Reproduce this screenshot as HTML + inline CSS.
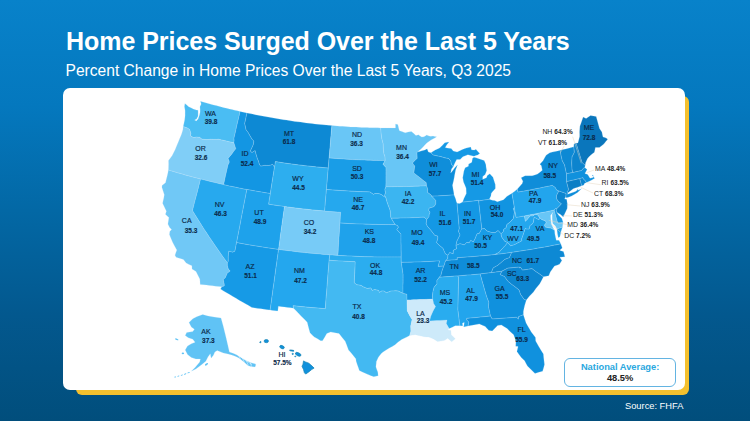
<!DOCTYPE html>
<html><head><meta charset="utf-8"><title>Home Prices Surged Over the Last 5 Years</title>
<style>
html,body{margin:0;padding:0}
body{width:750px;height:421px;overflow:hidden;position:relative;font-family:"Liberation Sans",sans-serif;
background:linear-gradient(180deg,#0882ca 0%,#0478be 25%,#0368a5 50%,#03588e 75%,#014e7c 100%);}
.title{position:absolute;left:66px;top:26px;font-size:25px;font-weight:bold;color:#fff;white-space:nowrap;line-height:30px;letter-spacing:-0.04px}
.sub{position:absolute;left:65.5px;top:60.5px;font-size:15.6px;color:#fff;white-space:nowrap;line-height:20px}
.shadow{position:absolute;left:76px;top:96px;width:613.3px;height:298.8px;border-radius:6px;background:#f4c02e}
.card{position:absolute;left:63px;top:88px;width:621.6px;height:301.8px;border-radius:7px;background:#fff}
.nat{position:absolute;left:564px;top:358.2px;width:110.2px;height:27px;border:1px solid #63b4e2;border-radius:6px;background:#fff;text-align:center}
.nat .l{position:absolute;left:0;right:0;top:3.3px;font-size:9.3px;font-weight:bold;color:#2aa8e0;line-height:11px}
.nat .p{position:absolute;left:0;right:0;top:14.2px;font-size:9.3px;font-weight:bold;color:#222;line-height:11px}
.src{position:absolute;left:625px;top:401px;font-size:9.3px;color:#fff;line-height:11px;white-space:nowrap}
svg{position:absolute;left:0;top:0}
svg path{stroke:#c8e8fa;stroke-opacity:.3;stroke-width:.7;stroke-linejoin:round}
.ld line{stroke:#e3d3ba;stroke-width:.45}
text{font-family:"Liberation Sans",sans-serif;fill:#0b2a4a}
.a{font-size:7px;text-anchor:middle;stroke:#0b2a4a;stroke-width:.18px}
.v{font-size:6.5px;font-weight:bold;text-anchor:middle;stroke:#0b2a4a;stroke-width:.12px}
.s{text-anchor:start}
.e{font-size:6.9px;fill:#222}
.b{font-weight:bold;font-size:6.5px}
</style></head>
<body>
<div class="title">Home Prices Surged Over the Last 5 Years</div>
<div class="sub">Percent Change in Home Prices Over the Last 5 Years, Q3 2025</div>
<div class="shadow"></div>
<div class="card"></div>
<svg width="750" height="421" viewBox="0 0 750 421">
<g>
<path d="M183.2,126.5L184.1,122.6L184.7,119.4L185.1,115.6L185.1,113.1L185.1,110.6L184.4,106.5L184.9,103.5L186.8,105.1L188.7,106.7L191.0,107.8L193.3,109.0L194.9,109.5L196.4,110.1L198.1,110.3L198.1,112.8L198.1,116.1L196.6,119.0L194.6,120.1L196.3,120.9L198.1,118.9L199.4,115.3L200.1,112.2L200.1,108.9L199.9,106.7L201.2,103.9L200.4,101.3L203.0,102.0L205.7,102.8L208.3,103.5L210.9,104.2L213.6,104.9L216.2,105.6L218.9,106.3L221.5,107.0L224.2,107.7L226.8,108.3L229.5,109.0L232.1,109.6L234.8,110.2L237.5,110.8L240.1,111.4L239.3,115.2L238.4,119.0L237.5,122.8L236.6,126.6L235.8,130.5L234.9,134.3L234.0,138.1L234.1,140.7L233.9,142.8L231.4,142.2L228.9,141.7L226.4,141.1L223.9,140.5L221.4,139.9L218.9,139.3L216.3,139.4L213.8,139.4L211.3,139.3L209.2,139.4L207.0,139.6L204.5,139.4L202.0,139.3L199.8,137.4L198.3,137.3L196.7,137.1L193.5,137.6L192.0,136.7L190.4,135.8L190.8,133.2L189.6,129.4L187.3,128.0L185.2,127.3L183.2,126.5Z" fill="#4abdf3"/>
<path d="M168.4,170.1L168.5,167.3L168.6,164.5L168.5,160.6L170.4,158.0L172.2,155.4L173.7,152.5L175.2,149.6L176.8,145.6L178.5,141.6L179.9,138.1L181.4,134.6L182.2,132.0L182.9,129.5L183.2,126.5L185.2,127.3L187.3,128.0L189.6,129.4L190.8,133.2L190.4,135.8L192.0,136.7L193.5,137.6L196.7,137.1L198.3,137.3L199.8,137.4L202.0,139.3L204.5,139.4L207.0,139.6L209.2,139.4L211.3,139.3L213.8,139.4L216.3,139.4L218.9,139.3L221.4,139.9L223.9,140.5L226.4,141.1L228.9,141.7L231.4,142.2L233.9,142.8L234.7,145.2L235.8,148.7L233.6,151.5L231.9,153.9L230.0,156.2L228.1,158.6L229.2,161.0L229.2,162.7L228.0,165.1L227.1,169.0L226.2,172.9L225.3,176.8L224.5,180.7L223.6,184.6L220.7,184.0L217.8,183.3L215.0,182.6L212.1,181.9L209.2,181.2L206.4,180.5L203.5,179.8L200.6,179.1L197.7,178.3L194.7,177.6L191.8,176.8L188.9,176.0L185.9,175.2L183.0,174.3L180.1,173.5L177.2,172.7L174.2,171.8L171.3,170.9L168.4,170.1Z" fill="#80cef7"/>
<path d="M200.2,284.4L200.0,281.7L199.8,279.1L197.9,275.3L196.0,271.5L194.0,270.2L192.0,268.9L191.9,265.8L189.0,264.4L186.2,263.1L183.4,259.6L181.0,258.8L178.5,258.0L176.1,257.2L175.0,255.2L175.9,252.6L176.8,250.1L174.7,246.2L172.6,242.2L171.0,238.4L169.4,234.6L169.8,231.4L171.6,229.6L169.6,227.4L167.9,224.1L168.4,220.8L168.9,217.6L167.2,216.0L165.4,214.3L166.4,211.2L164.5,207.3L162.6,203.3L163.2,200.5L163.8,197.7L164.3,194.8L163.1,191.1L161.9,187.3L162.0,185.6L165.5,182.7L166.4,179.0L167.3,175.4L167.9,172.7L168.4,170.1L171.3,170.9L174.2,171.8L177.2,172.7L180.1,173.5L183.0,174.3L185.9,175.2L188.9,176.0L191.8,176.8L194.7,177.6L197.7,178.3L200.6,179.1L199.6,183.0L198.6,186.9L197.6,190.9L196.6,194.8L195.5,198.7L194.5,202.6L193.5,206.6L192.5,210.5L194.8,214.3L197.2,218.1L199.5,221.8L201.9,225.6L204.3,229.4L206.8,233.1L209.3,236.9L211.8,240.6L214.3,244.3L216.9,248.0L219.5,251.8L222.1,255.5L224.8,259.2L227.4,262.8L227.4,265.6L228.4,269.1L230.2,271.1L227.2,273.3L226.3,275.6L225.3,277.8L223.3,279.6L224.3,284.3L224.3,285.9L221.8,286.8L218.7,286.5L215.6,286.2L212.6,285.8L209.5,285.5L206.4,285.1L203.3,284.7L200.2,284.4Z" fill="#70c8f6"/>
<path d="M200.6,179.1L203.5,179.8L206.4,180.5L209.2,181.2L212.1,181.9L215.0,182.6L217.8,183.3L220.7,184.0L223.6,184.6L226.5,185.2L229.4,185.9L232.3,186.5L235.2,187.1L238.1,187.7L241.0,188.3L243.9,188.9L246.9,189.4L246.1,193.5L245.3,197.6L244.5,201.7L243.7,205.8L242.9,209.9L242.1,213.9L241.3,218.0L240.6,222.1L239.8,226.2L239.0,230.3L238.2,234.4L237.4,238.5L236.6,242.6L236.0,245.4L235.5,248.3L234.9,251.2L232.5,252.2L230.6,251.7L228.8,251.2L228.5,253.8L228.3,256.4L228.3,258.9L228.3,261.3L227.4,262.8L224.8,259.2L222.1,255.5L219.5,251.8L216.9,248.0L214.3,244.3L211.8,240.6L209.3,236.9L206.8,233.1L204.3,229.4L201.9,225.6L199.5,221.8L197.2,218.1L194.8,214.3L192.5,210.5L193.5,206.6L194.5,202.6L195.5,198.7L196.6,194.8L197.6,190.9L198.6,186.9L199.6,183.0L200.6,179.1Z" fill="#27a9ee"/>
<path d="M240.1,111.4L242.4,111.9L244.7,112.4L247.0,112.9L246.2,116.5L245.5,120.0L244.7,123.5L245.4,126.5L246.0,129.6L247.2,131.2L248.4,132.8L250.2,136.1L252.3,139.5L253.9,141.0L253.3,144.7L251.7,148.2L250.3,151.1L252.0,152.4L255.1,150.5L256.0,153.9L257.4,158.5L258.4,160.8L259.7,165.0L260.8,166.0L262.8,165.7L264.7,165.3L266.6,165.4L268.6,165.4L271.6,164.8L272.5,163.9L273.6,165.7L274.5,167.1L273.9,170.9L273.3,174.7L272.7,178.4L272.1,182.2L271.5,186.0L270.9,189.8L270.3,193.5L267.3,193.1L264.4,192.6L261.5,192.1L258.6,191.6L255.6,191.1L252.7,190.5L249.8,190.0L246.9,189.4L243.9,188.9L241.0,188.3L238.1,187.7L235.2,187.1L232.3,186.5L229.4,185.9L226.5,185.2L223.6,184.6L224.5,180.7L225.3,176.8L226.2,172.9L227.1,169.0L228.0,165.1L229.2,162.7L229.2,161.0L228.1,158.6L230.0,156.2L231.9,153.9L233.6,151.5L235.8,148.7L234.7,145.2L233.9,142.8L234.1,140.7L234.0,138.1L234.9,134.3L235.8,130.5L236.6,126.6L237.5,122.8L238.4,119.0L239.3,115.2L240.1,111.4Z" fill="#1396e3"/>
<path d="M247.0,112.9L249.8,113.5L252.6,114.1L255.4,114.7L258.2,115.2L261.0,115.8L263.8,116.3L266.6,116.8L269.5,117.3L272.3,117.8L275.1,118.3L277.9,118.8L280.7,119.2L283.6,119.7L286.4,120.1L289.2,120.6L292.1,121.0L294.9,121.4L297.7,121.8L300.6,122.1L303.4,122.5L306.3,122.9L309.1,123.2L311.9,123.5L314.8,123.9L317.6,124.2L320.5,124.5L323.3,124.7L326.2,125.0L329.0,125.3L331.9,125.5L331.5,129.6L331.2,133.6L330.8,137.7L330.5,141.7L330.2,145.8L329.8,149.8L329.5,153.9L329.1,158.0L328.8,161.3L328.5,164.7L328.3,168.0L325.3,167.8L322.4,167.5L319.4,167.2L316.5,167.0L313.5,166.6L310.6,166.3L307.6,166.0L304.7,165.7L301.8,165.3L298.8,165.0L295.9,164.6L293.0,164.2L290.0,163.8L287.1,163.4L284.2,163.0L281.2,162.5L278.3,162.1L275.4,161.6L275.0,164.4L274.5,167.1L273.6,165.7L272.5,163.9L271.6,164.8L268.6,165.4L266.6,165.4L264.7,165.3L262.8,165.7L260.8,166.0L259.7,165.0L258.4,160.8L257.4,158.5L256.0,153.9L255.1,150.5L252.0,152.4L250.3,151.1L251.7,148.2L253.3,144.7L253.9,141.0L252.3,139.5L250.2,136.1L248.4,132.8L247.2,131.2L246.0,129.6L245.4,126.5L244.7,123.5L245.5,120.0L246.2,116.5L247.0,112.9Z" fill="#0d89d4"/>
<path d="M274.5,167.1L275.0,164.4L275.4,161.6L278.3,162.1L281.2,162.5L284.2,163.0L287.1,163.4L290.0,163.8L293.0,164.2L295.9,164.6L298.8,165.0L301.8,165.3L304.7,165.7L307.6,166.0L310.6,166.3L313.5,166.6L316.5,167.0L319.4,167.2L322.4,167.5L325.3,167.8L328.3,168.0L327.9,172.3L327.5,176.6L327.2,180.9L326.8,185.2L326.4,189.5L326.1,193.8L325.7,198.1L325.3,202.4L325.0,206.7L324.6,211.0L321.5,210.7L318.4,210.5L315.3,210.2L312.2,209.9L309.2,209.6L306.1,209.2L303.0,208.9L299.9,208.5L296.8,208.2L293.7,207.8L290.7,207.4L287.6,207.0L284.5,206.6L281.3,206.1L278.1,205.7L274.9,205.2L271.7,204.7L268.6,204.2L269.1,200.6L269.7,197.1L270.3,193.5L270.9,189.8L271.5,186.0L272.1,182.2L272.7,178.4L273.3,174.7L273.9,170.9L274.5,167.1Z" fill="#2daeef"/>
<path d="M246.9,189.4L249.8,190.0L252.7,190.5L255.6,191.1L258.6,191.6L261.5,192.1L264.4,192.6L267.3,193.1L270.3,193.5L269.7,197.1L269.1,200.6L268.6,204.2L271.7,204.7L274.9,205.2L278.1,205.7L281.3,206.1L284.5,206.6L283.9,210.9L283.3,215.1L282.7,219.4L282.1,223.7L281.5,228.0L280.9,232.3L280.3,236.6L279.8,240.9L279.2,245.2L278.6,249.5L275.3,249.0L272.1,248.5L268.8,248.1L265.6,247.6L262.4,247.1L259.2,246.5L255.9,246.0L252.7,245.5L249.5,244.9L246.3,244.4L243.0,243.8L239.8,243.2L236.6,242.6L237.4,238.5L238.2,234.4L239.0,230.3L239.8,226.2L240.6,222.1L241.3,218.0L242.1,213.9L242.9,209.9L243.7,205.8L244.5,201.7L245.3,197.6L246.1,193.5L246.9,189.4Z" fill="#1ea2eb"/>
<path d="M284.5,206.6L287.6,207.0L290.7,207.4L293.7,207.8L296.8,208.2L299.9,208.5L303.0,208.9L306.1,209.2L309.2,209.6L312.2,209.9L315.3,210.2L318.4,210.5L321.5,210.7L324.6,211.0L327.8,211.3L331.0,211.5L334.2,211.8L337.5,212.0L340.7,212.2L340.4,215.8L340.2,219.4L340.0,223.0L339.7,227.0L339.5,231.1L339.2,235.1L338.9,239.2L338.7,243.3L338.4,247.3L338.2,251.4L337.9,255.4L335.2,255.2L332.5,255.1L329.8,254.9L326.6,254.6L323.4,254.4L320.2,254.1L317.0,253.8L313.8,253.5L310.6,253.2L307.4,252.9L304.2,252.6L300.9,252.2L297.7,251.9L294.5,251.5L291.3,251.1L288.1,250.7L284.9,250.3L281.8,249.9L278.6,249.5L279.2,245.2L279.8,240.9L280.3,236.6L280.9,232.3L281.5,228.0L282.1,223.7L282.7,219.4L283.3,215.1L283.9,210.9L284.5,206.6Z" fill="#77cbf7"/>
<path d="M236.6,242.6L239.8,243.2L243.0,243.8L246.3,244.4L249.5,244.9L252.7,245.5L255.9,246.0L259.2,246.5L262.4,247.1L265.6,247.6L268.8,248.1L272.1,248.5L275.3,249.0L278.6,249.5L278.0,253.5L277.4,257.6L276.9,261.6L276.3,265.7L275.7,269.7L275.2,273.8L274.6,277.8L274.1,281.9L273.5,285.9L272.9,290.0L272.4,294.0L271.8,298.0L271.3,302.1L270.7,306.1L270.1,310.1L267.1,309.7L264.0,309.3L261.0,308.8L257.9,308.4L254.9,307.9L251.8,307.4L248.6,305.6L245.4,303.8L242.3,302.0L239.1,300.2L236.0,298.3L232.9,296.5L229.7,294.6L226.6,292.8L223.5,290.9L220.5,289.0L221.8,286.8L224.3,285.9L224.3,284.3L223.3,279.6L225.3,277.8L226.3,275.6L227.2,273.3L230.2,271.1L228.4,269.1L227.4,265.6L227.4,262.8L228.3,261.3L228.3,258.9L228.3,256.4L228.5,253.8L228.8,251.2L230.6,251.7L232.5,252.2L234.9,251.2L235.5,248.3L236.0,245.4L236.6,242.6Z" fill="#169ae6"/>
<path d="M278.6,249.5L281.8,249.9L284.9,250.3L288.1,250.7L291.3,251.1L294.5,251.5L297.7,251.9L300.9,252.2L304.2,252.6L307.4,252.9L310.6,253.2L313.8,253.5L317.0,253.8L320.2,254.1L323.4,254.4L326.6,254.6L329.8,254.9L329.5,257.5L329.1,260.2L328.8,264.3L328.5,268.3L328.1,272.4L327.8,276.4L327.5,280.5L327.2,284.5L326.9,288.5L326.6,292.6L326.2,296.6L325.9,300.6L325.6,304.7L325.3,308.7L321.7,308.4L318.1,308.1L314.5,307.8L311.0,307.5L307.4,307.2L303.8,306.8L300.2,306.5L296.6,306.1L293.1,305.7L293.6,308.2L290.6,307.8L287.5,307.5L284.5,307.1L281.4,306.7L278.4,306.3L278.1,308.7L277.8,311.1L275.2,310.8L272.7,310.5L270.1,310.1L270.7,306.1L271.3,302.1L271.8,298.0L272.4,294.0L272.9,290.0L273.5,285.9L274.1,281.9L274.6,277.8L275.2,273.8L275.7,269.7L276.3,265.7L276.9,261.6L277.4,257.6L278.0,253.5L278.6,249.5Z" fill="#24a7ee"/>
<path d="M331.9,125.5L334.6,125.7L337.3,126.0L340.0,126.2L342.7,126.3L345.4,126.5L348.1,126.7L350.8,126.9L353.5,127.0L356.2,127.1L358.9,127.3L361.7,127.4L364.4,127.5L367.1,127.6L369.8,127.7L372.5,127.7L375.2,127.8L377.9,127.8L380.6,127.9L380.9,130.5L381.1,133.2L381.5,135.9L381.8,138.5L382.5,141.2L383.2,143.8L383.3,146.5L383.4,149.2L383.9,153.5L385.0,156.7L385.2,160.5L382.3,160.5L379.3,160.5L376.4,160.4L373.4,160.4L370.5,160.3L367.5,160.2L364.5,160.1L361.6,160.0L358.6,159.9L355.7,159.7L352.7,159.6L349.8,159.4L346.8,159.3L343.9,159.1L340.9,158.9L338.0,158.7L335.0,158.5L332.1,158.2L329.1,158.0L329.5,153.9L329.8,149.8L330.2,145.8L330.5,141.7L330.8,137.7L331.2,133.6L331.5,129.6L331.9,125.5Z" fill="#69c6f6"/>
<path d="M329.1,158.0L332.1,158.2L335.0,158.5L338.0,158.7L340.9,158.9L343.9,159.1L346.8,159.3L349.8,159.4L352.7,159.6L355.7,159.7L358.6,159.9L361.6,160.0L364.5,160.1L367.5,160.2L370.5,160.3L373.4,160.4L376.4,160.4L379.3,160.5L382.3,160.5L385.2,160.5L383.0,164.2L386.0,167.4L386.0,171.3L386.0,175.1L386.0,179.0L386.0,182.9L385.9,186.8L384.9,189.4L385.5,192.7L384.6,195.4L385.9,197.6L383.9,196.4L381.6,194.7L380.0,194.1L378.4,193.6L376.7,193.5L374.9,193.5L373.7,194.5L371.8,193.2L369.8,191.9L366.7,191.8L363.6,191.7L360.5,191.6L357.4,191.5L354.3,191.3L351.2,191.2L348.1,191.0L345.0,190.8L341.9,190.6L338.8,190.4L335.7,190.2L332.6,190.0L329.5,189.7L326.4,189.5L326.8,185.2L327.2,180.9L327.5,176.6L327.9,172.3L328.3,168.0L328.5,164.7L328.8,161.3L329.1,158.0Z" fill="#199de7"/>
<path d="M326.4,189.5L329.5,189.7L332.6,190.0L335.7,190.2L338.8,190.4L341.9,190.6L345.0,190.8L348.1,191.0L351.2,191.2L354.3,191.3L357.4,191.5L360.5,191.6L363.6,191.7L366.7,191.8L369.8,191.9L371.8,193.2L373.7,194.5L374.9,193.5L376.7,193.5L378.4,193.6L380.0,194.1L381.6,194.7L383.9,196.4L385.9,197.6L386.7,200.8L387.6,203.5L388.6,206.2L389.4,208.3L390.2,210.5L390.6,213.7L390.7,217.0L391.3,218.3L393.1,221.3L395.1,224.5L391.8,224.6L388.6,224.6L385.4,224.6L382.1,224.5L378.9,224.5L375.6,224.4L372.4,224.4L369.1,224.3L365.9,224.2L362.7,224.1L359.4,224.0L356.2,223.9L352.9,223.7L349.7,223.6L346.5,223.4L343.2,223.2L340.0,223.0L340.2,219.4L340.4,215.8L340.7,212.2L337.5,212.0L334.2,211.8L331.0,211.5L327.8,211.3L324.6,211.0L325.0,206.7L325.3,202.4L325.7,198.1L326.1,193.8L326.4,189.5Z" fill="#25a8ee"/>
<path d="M340.0,223.0L343.2,223.2L346.5,223.4L349.7,223.6L352.9,223.7L356.2,223.9L359.4,224.0L362.7,224.1L365.9,224.2L369.1,224.3L372.4,224.4L375.6,224.4L378.9,224.5L382.1,224.5L385.4,224.6L388.6,224.6L391.8,224.6L395.1,224.5L397.6,225.6L398.5,227.2L396.8,229.4L398.5,231.5L401.0,234.1L401.0,237.9L401.0,241.7L401.1,245.5L401.1,249.3L401.2,253.2L401.2,257.0L397.9,257.0L394.5,257.0L391.2,257.0L387.9,257.0L384.5,257.0L381.2,257.0L377.9,257.0L374.5,256.9L371.2,256.8L367.9,256.8L364.5,256.7L361.2,256.6L357.9,256.4L354.6,256.3L351.2,256.1L347.9,256.0L344.6,255.8L341.2,255.6L337.9,255.4L338.2,251.4L338.4,247.3L338.7,243.3L338.9,239.2L339.2,235.1L339.5,231.1L339.7,227.0L340.0,223.0Z" fill="#1fa2eb"/>
<path d="M329.8,254.9L332.5,255.1L335.2,255.2L337.9,255.4L341.2,255.6L344.6,255.8L347.9,256.0L351.2,256.1L354.6,256.3L357.9,256.4L361.2,256.6L364.5,256.7L367.9,256.8L371.2,256.8L374.5,256.9L377.9,257.0L381.2,257.0L384.5,257.0L387.9,257.0L391.2,257.0L394.5,257.0L397.9,257.0L401.2,257.0L401.2,259.7L401.3,262.4L401.9,266.3L402.5,270.3L403.1,274.2L403.1,278.1L403.1,281.9L403.0,285.7L403.0,289.5L403.0,293.3L400.6,292.2L398.3,291.1L395.7,290.8L393.2,290.9L390.8,291.1L388.6,291.9L386.3,292.7L384.1,291.1L381.9,290.9L379.2,292.4L378.8,290.5L376.7,290.0L374.6,289.5L372.1,290.6L370.9,287.9L369.1,288.2L367.3,288.5L365.3,287.7L363.4,286.9L361.2,285.5L359.0,285.1L356.8,284.8L354.2,282.7L354.4,278.5L354.6,274.3L354.8,270.1L355.0,265.9L355.1,261.7L351.9,261.6L348.6,261.4L345.4,261.3L342.1,261.1L338.8,260.9L335.6,260.7L332.3,260.5L329.1,260.2L329.5,257.5L329.8,254.9Z" fill="#2badef"/>
<path d="M329.1,260.2L332.3,260.5L335.6,260.7L338.8,260.9L342.1,261.1L345.4,261.3L348.6,261.4L351.9,261.6L355.1,261.7L355.0,265.9L354.8,270.1L354.6,274.3L354.4,278.5L354.2,282.7L356.8,284.8L359.0,285.1L361.2,285.5L363.4,286.9L365.3,287.7L367.3,288.5L369.1,288.2L370.9,287.9L372.1,290.6L374.6,289.5L376.7,290.0L378.8,290.5L379.2,292.4L381.9,290.9L384.1,291.1L386.3,292.7L388.6,291.9L390.8,291.1L393.2,290.9L395.7,290.8L398.3,291.1L400.6,292.2L403.0,293.3L404.9,293.7L406.9,294.2L407.0,297.0L407.0,299.9L407.1,303.6L407.2,307.3L407.3,311.0L409.5,315.2L410.8,317.4L412.1,319.6L411.4,322.8L410.7,325.9L410.8,328.6L410.9,331.3L410.3,333.4L409.6,335.6L407.0,336.9L404.3,338.2L401.7,339.5L397.9,342.2L395.1,344.7L392.3,346.4L389.4,348.1L386.6,349.7L384.2,351.3L381.8,352.9L380.1,355.0L378.4,357.2L376.4,361.4L376.2,364.1L375.9,366.7L376.8,369.4L377.8,372.1L378.2,375.7L376.0,376.2L373.8,376.8L370.9,375.7L368.0,374.5L365.1,373.2L362.2,371.9L359.3,370.6L358.3,367.5L357.2,364.5L356.2,361.4L355.8,358.7L353.4,355.8L351.0,352.8L348.5,349.9L347.4,347.0L346.3,344.1L345.2,341.2L342.1,337.4L339.0,333.6L336.2,333.1L333.4,332.5L330.7,331.9L328.7,332.8L326.8,333.6L324.7,337.2L322.5,340.8L320.6,340.7L317.5,338.8L314.3,337.0L312.1,334.9L310.0,332.8L309.0,329.3L308.1,325.8L307.2,322.3L304.1,319.1L301.0,315.9L298.0,312.7L295.8,310.5L293.6,308.2L293.1,305.7L296.6,306.1L300.2,306.5L303.8,306.8L307.4,307.2L311.0,307.5L314.5,307.8L318.1,308.1L321.7,308.4L325.3,308.7L325.6,304.7L325.9,300.6L326.2,296.6L326.6,292.6L326.9,288.5L327.2,284.5L327.5,280.5L327.8,276.4L328.1,272.4L328.5,268.3L328.8,264.3L329.1,260.2Z" fill="#43b9f2"/>
<path d="M380.6,127.9L383.1,127.9L385.6,127.9L388.1,127.9L390.6,127.9L393.0,127.9L395.5,127.9L395.5,123.9L397.8,124.5L398.4,126.8L398.9,129.1L399.5,130.8L402.0,131.5L403.7,132.2L405.3,132.8L408.2,131.9L409.8,131.8L411.4,131.6L413.6,133.3L415.9,135.6L418.4,134.8L420.1,135.9L421.7,137.1L423.9,136.8L425.3,135.9L426.7,135.0L428.4,135.7L430.1,136.3L431.5,136.2L433.0,136.1L434.8,136.5L436.7,136.8L434.8,137.9L432.9,138.9L431.0,140.0L428.9,141.4L426.8,142.9L425.1,144.8L423.3,146.8L420.5,149.6L418.3,151.3L418.9,151.7L417.0,152.3L417.1,155.4L417.2,158.5L415.3,160.0L413.0,162.5L413.0,164.0L414.8,165.9L414.2,170.2L413.9,172.9L415.8,174.4L417.8,176.0L421.0,178.5L423.8,180.8L426.2,182.6L426.6,185.8L423.7,186.0L420.8,186.1L417.9,186.2L415.0,186.3L412.1,186.4L409.2,186.5L406.3,186.6L403.4,186.6L400.5,186.7L397.6,186.7L394.7,186.7L391.8,186.8L388.8,186.8L385.9,186.8L386.0,182.9L386.0,179.0L386.0,175.1L386.0,171.3L386.0,167.4L383.0,164.2L385.2,160.5L385.0,156.7L383.9,153.5L383.4,149.2L383.3,146.5L383.2,143.8L382.5,141.2L381.8,138.5L381.5,135.9L381.1,133.2L380.9,130.5L380.6,127.9Z" fill="#68c6f6"/>
<path d="M385.9,186.8L388.8,186.8L391.8,186.8L394.7,186.7L397.6,186.7L400.5,186.7L403.4,186.6L406.3,186.6L409.2,186.5L412.1,186.4L415.0,186.3L417.9,186.2L420.8,186.1L423.7,186.0L426.6,185.8L427.7,189.0L427.5,192.3L429.3,193.6L431.2,195.0L431.7,196.2L433.6,198.1L435.8,200.4L435.8,203.7L434.6,206.1L433.1,207.1L431.1,207.6L429.1,208.2L428.8,210.6L430.1,212.1L429.1,214.9L429.1,216.5L426.7,219.6L424.1,217.2L421.1,217.3L418.1,217.5L415.1,217.6L412.2,217.7L409.2,217.9L406.2,218.0L403.2,218.0L400.2,218.1L397.3,218.2L394.3,218.2L391.3,218.3L390.7,217.0L390.6,213.7L390.2,210.5L389.4,208.3L388.6,206.2L387.6,203.5L386.7,200.8L385.9,197.6L384.6,195.4L385.5,192.7L384.9,189.4L385.9,186.8Z" fill="#3bb5f1"/>
<path d="M391.3,218.3L394.3,218.2L397.3,218.2L400.2,218.1L403.2,218.0L406.2,218.0L409.2,217.9L412.2,217.7L415.1,217.6L418.1,217.5L421.1,217.3L424.1,217.2L426.7,219.6L426.2,223.7L427.4,226.3L430.7,230.0L433.1,233.1L434.7,235.2L437.6,235.9L437.9,237.9L437.3,240.3L436.6,242.7L439.9,245.7L443.0,248.2L444.6,251.9L445.6,254.0L448.0,255.2L447.6,258.8L445.9,260.5L444.9,262.7L444.6,264.4L443.8,266.1L440.9,266.3L438.0,266.4L438.8,263.7L439.6,260.9L436.4,261.1L433.2,261.3L430.0,261.5L426.8,261.6L423.6,261.7L420.5,261.9L417.3,262.0L414.1,262.1L410.9,262.2L407.7,262.3L404.5,262.3L401.3,262.4L401.2,259.7L401.2,257.0L401.2,253.2L401.1,249.3L401.1,245.5L401.0,241.7L401.0,237.9L401.0,234.1L398.5,231.5L396.8,229.4L398.5,227.2L397.6,225.6L395.1,224.5L393.1,221.3L391.3,218.3Z" fill="#1ca0ea"/>
<path d="M401.3,262.4L404.5,262.3L407.7,262.3L410.9,262.2L414.1,262.1L417.3,262.0L420.5,261.9L423.6,261.7L426.8,261.6L430.0,261.5L433.2,261.3L436.4,261.1L439.6,260.9L438.8,263.7L438.0,266.4L440.9,266.3L443.8,266.1L442.9,268.6L442.0,271.1L440.9,275.5L439.3,277.2L436.9,280.6L437.0,283.8L434.1,287.2L433.0,291.6L432.7,293.8L432.4,296.0L432.8,299.2L429.6,299.3L426.4,299.4L423.1,299.6L419.9,299.6L416.7,299.7L413.5,299.8L410.3,299.9L407.0,299.9L407.0,297.0L406.9,294.2L404.9,293.7L403.0,293.3L403.0,289.5L403.0,285.7L403.1,281.9L403.1,278.1L403.1,274.2L402.5,270.3L401.9,266.3L401.3,262.4Z" fill="#1397e4"/>
<path d="M407.0,299.9L410.3,299.9L413.5,299.8L416.7,299.7L419.9,299.6L423.1,299.6L426.4,299.4L429.6,299.3L432.8,299.2L433.6,303.5L435.6,306.6L433.1,311.1L431.9,313.8L430.7,316.6L429.6,320.9L433.1,320.8L436.6,320.6L440.1,320.4L443.6,320.2L447.1,320.0L446.3,323.6L448.6,327.4L449.4,328.6L447.6,330.1L450.9,330.5L451.2,334.7L453.2,336.8L455.3,338.8L453.5,340.2L451.7,341.7L447.7,338.2L445.9,339.4L444.1,340.6L440.8,341.0L437.5,341.5L433.6,339.0L431.2,338.1L428.8,337.1L426.5,336.9L424.1,336.7L421.3,336.1L418.4,335.4L415.6,334.7L412.6,335.1L409.6,335.6L410.3,333.4L410.9,331.3L410.8,328.6L410.7,325.9L411.4,322.8L412.1,319.6L410.8,317.4L409.5,315.2L407.3,311.0L407.2,307.3L407.1,303.6L407.0,299.9Z" fill="#cdeafa"/>
<path d="M418.9,151.7L420.9,151.1L422.9,150.5L424.9,149.9L427.1,148.7L428.4,151.9L431.0,152.8L433.3,154.9L435.8,155.5L438.4,156.1L441.0,156.6L444.1,157.6L446.4,158.1L448.7,158.5L450.8,161.0L451.4,164.2L453.2,166.7L451.5,169.0L450.7,172.9L452.4,171.1L454.8,167.7L456.2,166.2L457.6,164.7L456.7,167.2L455.7,169.8L455.2,172.2L454.7,174.7L454.2,177.7L453.6,180.7L452.5,185.2L453.2,189.4L453.7,192.1L454.1,194.9L451.3,195.1L448.5,195.3L445.7,195.5L442.9,195.6L440.1,195.8L437.3,196.0L434.5,196.1L431.7,196.2L431.2,195.0L429.3,193.6L427.5,192.3L427.7,189.0L426.6,185.8L426.2,182.6L423.8,180.8L421.0,178.5L417.8,176.0L415.8,174.4L413.9,172.9L414.2,170.2L414.8,165.9L413.0,164.0L413.0,162.5L415.3,160.0L417.2,158.5L417.1,155.4L417.0,152.3L418.9,151.7Z" fill="#0f8eda"/>
<path d="M431.7,196.2L434.5,196.1L437.3,196.0L440.1,195.8L442.9,195.6L445.7,195.5L448.5,195.3L451.3,195.1L454.1,194.9L455.7,199.0L456.3,201.6L457.1,203.2L457.4,207.4L457.8,211.6L458.2,215.8L458.5,220.1L458.9,224.3L459.3,228.5L458.5,231.3L460.1,234.9L458.3,238.4L456.9,241.2L456.3,244.0L456.0,245.6L456.7,248.8L455.0,249.5L453.4,250.2L453.2,253.8L451.5,253.2L449.7,252.6L448.0,255.2L445.6,254.0L444.6,251.9L443.0,248.2L439.9,245.7L436.6,242.7L437.3,240.3L437.9,237.9L437.6,235.9L434.7,235.2L433.1,233.1L430.7,230.0L427.4,226.3L426.2,223.7L426.7,219.6L429.1,216.5L429.1,214.9L430.1,212.1L428.8,210.6L429.1,208.2L431.1,207.6L433.1,207.1L434.6,206.1L435.8,203.7L435.8,200.4L433.6,198.1L431.7,196.2Z" fill="#1498e5"/>
<path d="M457.1,203.2L459.7,203.5L462.6,202.0L465.2,201.8L467.9,201.5L470.6,201.2L473.3,200.9L475.9,200.6L478.6,200.3L478.7,200.9L479.1,204.9L479.6,208.9L480.0,212.9L480.5,216.9L480.9,220.9L481.4,224.9L481.8,228.9L479.2,233.6L477.1,233.8L476.1,236.2L475.1,238.7L473.4,241.8L470.7,240.5L469.2,242.8L466.7,242.5L464.4,244.9L462.2,244.3L460.0,243.7L458.0,244.6L456.0,245.6L456.3,244.0L456.9,241.2L458.3,238.4L460.1,234.9L458.5,231.3L459.3,228.5L458.9,224.3L458.5,220.1L458.2,215.8L457.8,211.6L457.4,207.4L457.1,203.2Z" fill="#1498e5"/>
<path d="M462.6,202.0L464.0,198.2L466.3,193.6L466.2,190.9L466.1,188.2L464.8,185.1L463.5,182.0L462.7,177.7L463.3,174.4L463.9,171.1L465.1,167.8L466.8,167.0L468.4,166.3L468.6,164.1L470.2,163.2L471.8,162.2L472.5,158.3L474.0,157.3L476.1,157.8L478.2,158.4L481.2,159.5L484.2,160.6L485.8,164.2L486.2,167.4L486.7,170.6L485.2,174.6L482.8,176.5L482.7,179.2L484.6,178.5L486.4,177.7L487.3,175.4L489.8,173.8L493.0,177.3L494.2,181.0L495.3,184.6L495.4,188.4L494.1,190.0L492.7,191.5L491.3,193.3L490.9,196.1L489.3,199.3L486.7,199.7L484.0,200.1L481.3,200.5L478.7,200.9L478.6,200.3L475.9,200.6L473.3,200.9L470.6,201.2L467.9,201.5L465.2,201.8L462.6,202.0Z" fill="#1599e5"/>
<path d="M431.0,152.8L433.2,151.3L435.3,149.9L437.5,148.9L439.6,148.0L442.2,145.4L444.8,142.8L447.0,142.3L449.1,141.9L446.8,144.7L445.2,147.5L447.1,147.9L449.1,148.3L451.2,148.6L453.3,151.1L455.2,151.5L457.1,151.9L458.7,151.2L460.3,150.5L462.3,149.6L464.2,148.7L466.4,148.1L468.6,147.5L470.8,147.0L471.5,149.8L473.0,149.9L474.5,150.0L475.9,149.3L478.1,151.7L479.8,153.6L477.7,155.0L475.9,155.6L474.0,156.3L470.9,155.5L467.9,154.7L465.4,155.7L462.8,156.7L460.1,159.6L458.4,159.5L456.7,159.4L454.9,163.1L453.2,166.7L451.4,164.2L450.8,161.0L448.7,158.5L446.4,158.1L444.1,157.6L441.0,156.6L438.4,156.1L435.8,155.5L433.3,154.9L431.0,152.8Z" fill="#1599e5"/>
<path d="M478.7,200.9L481.3,200.5L484.0,200.1L486.7,199.7L489.3,199.3L492.3,200.3L494.7,200.5L497.3,201.8L500.4,200.8L503.5,199.8L505.3,198.0L507.0,196.3L509.5,194.8L512.0,193.2L512.6,196.8L513.2,200.3L513.8,203.9L514.4,207.5L513.3,208.3L514.5,212.3L513.9,215.4L513.3,218.5L511.8,220.2L510.2,222.0L508.6,223.2L506.9,224.4L506.1,227.8L503.8,229.3L503.3,231.5L501.1,233.8L498.1,230.6L495.0,232.7L493.4,232.6L491.7,232.6L489.3,231.8L486.9,231.0L484.5,228.6L481.8,228.9L481.4,224.9L480.9,220.9L480.5,216.9L480.0,212.9L479.6,208.9L479.1,204.9L478.7,200.9Z" fill="#1194e1"/>
<path d="M448.0,255.2L449.7,252.6L451.5,253.2L453.2,253.8L453.4,250.2L455.0,249.5L456.7,248.8L456.0,245.6L458.0,244.6L460.0,243.7L462.2,244.3L464.4,244.9L466.7,242.5L469.2,242.8L470.7,240.5L473.4,241.8L475.1,238.7L476.1,236.2L477.1,233.8L479.2,233.6L481.8,228.9L484.5,228.6L486.9,231.0L489.3,231.8L491.7,232.6L493.4,232.6L495.0,232.7L498.1,230.6L501.1,233.8L501.5,236.7L503.1,239.0L504.7,241.2L507.7,242.5L505.3,245.5L503.8,247.1L502.2,248.7L500.6,250.5L499.0,252.4L496.9,253.5L494.7,254.6L491.7,254.9L488.7,255.2L485.7,255.5L482.7,255.8L479.7,256.0L476.7,256.3L473.7,256.6L470.7,256.8L467.3,257.0L463.9,257.3L460.6,257.5L457.2,257.7L457.4,259.6L454.5,259.9L451.6,260.1L448.7,260.3L445.9,260.5L447.6,258.8L448.0,255.2Z" fill="#189ce7"/>
<path d="M445.9,260.5L448.7,260.3L451.6,260.1L454.5,259.9L457.4,259.6L457.2,257.7L460.6,257.5L463.9,257.3L467.3,257.0L470.7,256.8L473.7,256.6L476.7,256.3L479.7,256.0L482.7,255.8L485.7,255.5L488.7,255.2L491.7,254.9L494.7,254.6L498.1,254.1L501.5,253.7L504.9,253.3L508.3,252.8L511.7,252.3L510.3,255.7L509.3,257.8L507.0,258.6L504.8,259.4L502.8,261.1L500.9,262.8L499.3,264.1L497.7,265.4L495.5,266.6L493.2,267.9L492.3,270.2L491.4,272.6L488.6,272.9L485.8,273.3L483.0,273.6L480.2,274.0L477.0,274.3L473.8,274.6L470.5,274.9L467.3,275.1L464.1,275.4L460.9,275.7L457.6,275.9L454.6,276.1L451.5,276.4L448.5,276.6L445.4,276.8L442.4,277.0L439.3,277.2L440.9,275.5L442.0,271.1L442.9,268.6L443.8,266.1L444.6,264.4L444.9,262.7L445.9,260.5Z" fill="#0f8dd9"/>
<path d="M439.3,277.2L442.4,277.0L445.4,276.8L448.5,276.6L451.5,276.4L454.6,276.1L457.6,275.9L458.6,276.9L458.5,281.0L458.5,285.1L458.4,289.1L458.3,293.2L458.2,297.3L458.1,301.3L458.0,305.4L457.9,309.5L458.4,313.5L458.9,317.6L459.4,321.7L459.9,325.8L457.6,325.8L455.2,325.8L452.3,327.2L449.4,328.6L448.6,327.4L446.3,323.6L447.1,320.0L443.6,320.2L440.1,320.4L436.6,320.6L433.1,320.8L429.6,320.9L430.7,316.6L431.9,313.8L433.1,311.1L435.6,306.6L433.6,303.5L432.8,299.2L432.4,296.0L432.7,293.8L433.0,291.6L434.1,287.2L437.0,283.8L436.9,280.6L439.3,277.2Z" fill="#29acef"/>
<path d="M457.6,275.9L460.9,275.7L464.1,275.4L467.3,275.1L470.5,274.9L473.8,274.6L477.0,274.3L480.2,274.0L481.3,277.7L482.3,281.4L483.4,285.1L484.4,288.8L485.5,292.5L486.6,296.2L487.7,299.2L488.9,302.1L488.5,306.5L489.4,310.7L490.0,313.4L490.5,316.0L487.1,316.4L483.7,316.8L480.3,317.1L476.9,317.5L473.5,317.8L470.1,318.1L466.7,318.4L466.8,320.1L468.9,322.0L468.1,326.1L465.9,326.6L463.7,327.0L464.0,324.7L464.3,322.4L462.5,323.1L462.7,326.0L459.9,325.8L459.4,321.7L458.9,317.6L458.4,313.5L457.9,309.5L458.0,305.4L458.1,301.3L458.2,297.3L458.3,293.2L458.4,289.1L458.5,285.1L458.5,281.0L458.6,276.9L457.6,275.9Z" fill="#22a5ed"/>
<path d="M480.2,274.0L483.0,273.6L485.8,273.3L488.6,272.9L491.4,272.6L494.1,272.2L496.7,271.8L499.4,271.5L502.0,271.1L500.3,274.6L502.4,275.5L504.5,276.4L506.2,278.8L507.9,281.2L511.9,284.4L515.0,286.7L517.0,288.3L519.1,289.9L519.9,292.2L520.7,294.6L522.5,297.0L524.2,299.5L526.4,299.9L525.6,302.6L524.7,305.4L524.0,308.5L523.4,311.6L523.4,314.7L521.0,315.7L518.5,316.7L518.4,319.3L516.7,317.3L513.2,317.5L509.7,317.8L506.2,318.1L502.7,318.3L499.2,318.5L495.7,318.8L492.2,319.0L490.5,316.0L490.0,313.4L489.4,310.7L488.5,306.5L488.9,302.1L487.7,299.2L486.6,296.2L485.5,292.5L484.4,288.8L483.4,285.1L482.3,281.4L481.3,277.7L480.2,274.0Z" fill="#1091de"/>
<path d="M490.5,316.0L492.2,319.0L495.7,318.8L499.2,318.5L502.7,318.3L506.2,318.1L509.7,317.8L513.2,317.5L516.7,317.3L518.4,319.3L518.5,316.7L521.0,315.7L523.4,314.7L524.3,317.5L525.2,320.3L526.1,323.1L527.8,326.1L529.6,329.1L531.3,332.1L533.4,334.7L535.5,337.4L535.7,341.1L537.4,344.1L539.1,347.1L541.2,350.5L543.4,353.9L543.7,357.5L544.1,361.0L544.5,364.5L543.6,367.9L542.6,371.3L538.8,372.3L535.0,373.4L531.2,369.8L527.4,366.1L526.0,363.4L524.6,360.7L521.2,357.4L519.0,354.5L516.9,351.5L517.5,349.0L518.1,346.5L515.7,346.3L515.8,343.6L515.9,340.9L514.7,337.8L513.6,334.7L510.3,331.7L507.1,328.6L504.2,326.8L501.4,325.0L497.7,325.4L495.0,328.2L492.3,331.0L488.9,330.6L487.0,328.5L485.2,326.4L482.2,325.2L479.3,323.9L476.5,324.5L473.7,325.0L470.9,325.6L468.1,326.1L468.9,322.0L466.8,320.1L466.7,318.4L470.1,318.1L473.5,317.8L476.9,317.5L480.3,317.1L483.7,316.8L487.1,316.4L490.5,316.0Z" fill="#1091de"/>
<path d="M502.0,271.1L504.9,269.6L507.8,268.1L510.7,267.8L513.6,267.5L516.6,267.2L519.5,266.9L519.7,267.9L520.6,267.2L522.4,270.0L525.6,269.6L528.8,269.1L532.0,268.6L535.8,271.4L539.7,274.1L543.5,276.8L541.7,280.3L539.8,283.7L538.0,286.0L536.1,288.2L533.5,291.9L531.6,293.9L529.6,295.9L528.0,297.9L526.4,299.9L524.2,299.5L522.5,297.0L520.7,294.6L519.9,292.2L519.1,289.9L517.0,288.3L515.0,286.7L511.9,284.4L507.9,281.2L506.2,278.8L504.5,276.4L502.4,275.5L500.3,274.6L502.0,271.1Z" fill="#0d86d1"/>
<path d="M491.4,272.6L492.3,270.2L493.2,267.9L495.5,266.6L497.7,265.4L499.3,264.1L500.9,262.8L502.8,261.1L504.8,259.4L507.0,258.6L509.3,257.8L510.3,255.7L511.7,252.3L515.0,251.8L518.3,251.3L521.6,250.8L524.8,250.3L528.1,249.8L531.4,249.3L534.7,248.7L537.9,248.1L541.2,247.6L544.5,247.0L547.7,246.4L551.0,245.7L554.2,245.1L557.5,244.5L560.8,243.8L562.3,247.9L559.7,250.3L561.6,250.9L563.5,251.5L564.2,254.1L564.9,256.7L562.4,257.0L559.8,257.3L561.9,260.5L559.5,264.3L557.0,265.2L554.5,266.1L552.4,269.0L550.3,271.9L548.8,275.8L546.2,276.3L543.5,276.8L539.7,274.1L535.8,271.4L532.0,268.6L528.8,269.1L525.6,269.6L522.4,270.0L520.6,267.2L519.7,267.9L519.5,266.9L516.6,267.2L513.6,267.5L510.7,267.8L507.8,268.1L504.9,269.6L502.0,271.1L499.4,271.5L496.7,271.8L494.1,272.2L491.4,272.6Z" fill="#0d89d4"/>
<path d="M511.7,252.3L508.3,252.8L504.9,253.3L501.5,253.7L498.1,254.1L494.7,254.6L496.9,253.5L499.0,252.4L500.6,250.5L502.2,248.7L503.8,247.1L505.3,245.5L507.7,242.5L510.5,245.8L512.4,245.2L514.2,244.7L515.8,243.9L517.4,243.1L519.6,241.9L521.8,240.7L521.5,239.1L522.7,235.9L523.8,232.7L525.2,228.3L526.5,228.9L529.1,229.0L530.1,225.0L531.2,225.1L533.4,222.2L533.7,219.7L534.1,217.1L536.5,218.4L539.0,219.7L539.5,217.5L541.7,219.5L545.2,220.7L546.1,222.0L546.2,223.0L544.5,225.0L545.3,227.1L548.0,227.6L551.1,228.1L554.6,230.3L554.9,234.0L555.7,237.7L556.3,240.3L559.0,240.3L560.8,243.8L557.5,244.5L554.2,245.1L551.0,245.7L547.7,246.4L544.5,247.0L541.2,247.6L537.9,248.1L534.7,248.7L531.4,249.3L528.1,249.8L524.8,250.3L521.6,250.8L518.3,251.3L515.0,251.8L511.7,252.3Z" fill="#1ca0e9"/>
<path d="M556.9,229.1L557.2,231.5L557.5,234.0L558.3,237.7L559.9,236.8L560.5,233.9L561.2,231.0L562.5,227.0L559.5,228.1L556.9,229.1Z" fill="#1ca0e9"/>
<path d="M501.1,233.8L503.3,231.5L503.8,229.3L506.1,227.8L506.9,224.4L508.6,223.2L510.2,222.0L511.8,220.2L513.3,218.5L513.9,215.4L514.5,212.3L513.3,208.3L514.4,207.5L514.9,210.8L515.5,214.0L516.0,217.3L518.8,216.9L521.6,216.4L524.4,215.9L524.9,218.6L525.4,221.3L526.7,220.1L528.4,217.9L530.4,215.8L533.0,215.9L535.0,214.3L537.4,214.8L538.4,215.7L539.5,217.5L539.0,219.7L536.5,218.4L534.1,217.1L533.7,219.7L533.4,222.2L531.2,225.1L530.1,225.0L529.1,229.0L526.5,228.9L525.2,228.3L523.8,232.7L522.7,235.9L521.5,239.1L521.8,240.7L519.6,241.9L517.4,243.1L515.8,243.9L514.2,244.7L512.4,245.2L510.5,245.8L507.7,242.5L504.7,241.2L503.1,239.0L501.5,236.7L501.1,233.8Z" fill="#24a7ee"/>
<path d="M512.0,193.2L514.7,191.2L517.4,189.1L517.9,192.0L520.8,191.5L523.7,191.0L526.5,190.5L529.4,189.9L532.3,189.4L535.1,188.8L538.0,188.3L540.9,187.7L543.7,187.1L546.6,186.5L549.4,185.9L552.3,185.3L555.3,187.4L556.7,190.1L558.9,190.9L557.7,193.3L556.5,195.7L556.6,198.7L558.5,201.6L561.5,203.7L559.1,206.5L556.9,208.6L555.4,208.6L554.2,210.1L551.2,210.7L548.2,211.4L545.3,212.0L542.3,212.6L539.3,213.1L536.3,213.7L533.4,214.3L530.4,214.8L527.4,215.4L524.4,215.9L521.6,216.4L518.8,216.9L516.0,217.3L515.5,214.0L514.9,210.8L514.4,207.5L513.8,203.9L513.2,200.3L512.6,196.8L512.0,193.2Z" fill="#22a5ed"/>
<path d="M524.4,215.9L527.4,215.4L530.4,214.8L533.4,214.3L536.3,213.7L539.3,213.1L542.3,212.6L545.3,212.0L548.2,211.4L551.2,210.7L554.2,210.1L555.1,213.4L556.0,216.7L556.9,220.0L557.8,223.3L560.4,222.8L563.1,222.2L562.8,224.6L562.5,227.0L559.5,228.1L556.9,229.1L555.4,226.1L552.7,223.4L552.4,221.2L552.2,219.0L552.1,214.6L552.9,212.3L550.6,215.5L550.8,219.3L551.1,221.8L551.4,224.2L553.4,228.2L554.6,230.3L551.1,228.1L548.0,227.6L545.3,227.1L544.5,225.0L546.2,223.0L546.1,222.0L545.2,220.7L541.7,219.5L539.5,217.5L538.4,215.7L537.4,214.8L535.0,214.3L533.0,215.9L530.4,215.8L528.4,217.9L526.7,220.1L525.4,221.3L524.9,218.6L524.4,215.9Z" fill="#68c6f6"/>
<path d="M554.2,210.1L555.4,208.6L556.9,208.6L556.6,212.0L558.5,214.9L560.2,216.8L561.9,218.6L563.1,222.2L560.4,222.8L557.8,223.3L556.9,220.0L556.0,216.7L555.1,213.4L554.2,210.1Z" fill="#1599e5"/>
<path d="M558.9,190.9L562.5,192.2L566.1,193.4L565.9,196.6L564.6,199.1L566.7,199.2L567.0,201.6L567.4,204.0L567.2,208.5L565.8,211.6L564.5,214.2L563.2,216.9L560.5,214.5L557.1,212.5L556.4,211.0L556.9,208.6L559.1,206.5L561.5,203.7L558.5,201.6L556.6,198.7L556.5,195.7L557.7,193.3L558.9,190.9Z" fill="#0c85cf"/>
<path d="M517.4,189.1L519.8,186.3L522.2,183.6L522.9,181.2L521.1,177.7L523.1,176.7L525.1,175.7L527.5,175.7L529.8,175.7L532.2,175.7L534.8,174.9L537.5,174.1L539.9,172.2L542.3,170.3L541.8,168.0L541.3,165.6L539.8,164.2L541.4,162.5L543.0,160.8L544.5,158.0L546.1,155.2L547.9,154.0L549.8,152.7L552.4,152.1L555.0,151.5L557.6,150.9L560.2,150.3L560.6,152.9L561.1,155.6L561.7,158.2L562.3,160.8L564.5,164.7L565.2,167.7L565.8,170.7L566.5,173.7L566.5,177.6L566.5,181.4L567.6,185.6L568.7,189.8L567.2,191.8L568.0,192.8L567.6,194.3L569.7,193.5L571.8,192.7L574.1,191.9L576.3,191.1L578.2,188.6L577.8,190.3L579.8,189.5L581.8,188.6L579.7,190.6L577.6,192.6L574.7,194.3L571.7,196.0L569.3,196.9L566.8,197.8L565.9,197.5L566.1,193.4L562.5,192.2L558.9,190.9L556.7,190.1L555.3,187.4L552.3,185.3L549.4,185.9L546.6,186.5L543.7,187.1L540.9,187.7L538.0,188.3L535.1,188.8L532.3,189.4L529.4,189.9L526.5,190.5L523.7,191.0L520.8,191.5L517.9,192.0L517.4,189.1Z" fill="#0f8dd9"/>
<path d="M566.5,181.4L569.2,180.9L571.8,180.3L574.5,179.7L577.1,179.1L579.7,178.5L580.6,181.6L581.4,184.8L581.3,185.9L579.2,186.7L577.1,187.5L575.2,188.1L573.3,188.7L570.7,190.7L568.0,192.8L567.2,191.8L568.7,189.8L567.6,185.6L566.5,181.4Z" fill="#0b7ec5"/>
<path d="M579.7,178.5L581.3,178.1L583.0,177.6L583.3,178.9L585.2,180.6L586.4,182.5L584.4,183.6L583.9,184.9L581.3,185.9L581.4,184.8L580.6,181.6L579.7,178.5Z" fill="#0c86d0"/>
<path d="M566.5,173.7L568.6,173.2L570.7,172.8L572.8,172.4L575.7,171.7L578.7,171.1L581.7,170.4L583.5,168.0L584.8,167.6L587.1,169.5L586.0,171.5L584.9,173.4L587.7,174.4L588.8,176.3L590.0,178.2L593.1,177.6L593.2,175.1L591.9,174.9L594.7,178.3L592.3,179.7L589.9,181.0L588.2,181.8L586.4,182.5L585.2,180.6L583.3,178.9L583.0,177.6L581.3,178.1L579.7,178.5L577.1,179.1L574.5,179.7L571.8,180.3L569.2,180.9L566.5,181.4L566.5,177.6L566.5,173.7Z" fill="#1091dd"/>
<path d="M560.2,150.3L562.9,149.6L565.6,148.9L568.4,148.3L571.1,147.6L573.8,146.8L574.1,149.5L574.4,152.2L573.3,154.5L572.1,156.7L571.9,159.8L571.7,163.0L571.9,166.2L572.1,169.5L572.8,172.4L570.7,172.8L568.6,173.2L566.5,173.7L565.8,170.7L565.2,167.7L564.5,164.7L562.3,160.8L561.7,158.2L561.1,155.6L560.6,152.9L560.2,150.3Z" fill="#0d89d4"/>
<path d="M573.8,146.8L573.9,144.1L576.1,142.9L577.3,146.8L578.5,150.7L579.7,154.6L580.9,158.5L582.1,162.4L585.2,165.3L584.8,167.6L583.5,168.0L581.7,170.4L578.7,171.1L575.7,171.7L572.8,172.4L572.1,169.5L571.9,166.2L571.7,163.0L571.9,159.8L572.1,156.7L573.3,154.5L574.4,152.2L574.1,149.5L573.8,146.8Z" fill="#0c84ce"/>
<path d="M576.1,142.9L577.9,143.0L578.8,139.7L579.6,136.4L579.6,134.2L579.5,132.0L579.7,129.2L579.9,126.3L581.5,121.7L583.1,117.0L586.1,118.5L588.3,117.0L590.5,115.5L593.4,116.0L596.2,116.5L597.3,120.5L598.4,124.4L599.5,128.4L601.9,132.1L602.4,134.5L603.0,136.9L605.0,137.6L607.0,138.4L607.6,139.4L605.8,141.6L603.9,143.9L601.7,145.7L599.4,147.5L597.4,147.5L595.4,147.5L594.4,152.3L592.1,154.1L589.8,155.9L588.6,157.3L587.4,158.8L585.7,162.6L585.2,165.3L582.1,162.4L580.9,158.5L579.7,154.6L578.5,150.7L577.3,146.8L576.1,142.9Z" fill="#0a76bc"/>
</g>
<g fill="#60c3f5" stroke="none"><path d="M189.0,322.5L192.8,318.7L196.6,316.8L202.7,314.4L208.1,315.9L214.1,317.1L221.0,317.9L223.3,326.3L226.3,338.4L229.4,352.1L233.0,353.2L236.5,354.8L240.0,356.9L244.0,359.2L248.2,361.6L252.0,363.0L255.7,364.1L255.6,366.0L254.9,366.9L251.0,366.6L248.2,365.7L244.5,362.6L241.5,359.9L238.0,357.6L234.5,355.9L231.6,354.9L228.0,354.0L223.3,352.9L217.2,350.6L214.9,352.1L213.4,355.2L211.1,358.2L210.6,355.5L210.3,353.7L208.1,356.7L205.8,361.3L201.2,365.1L195.9,368.9L191.3,371.2L195.1,367.4L199.7,362.0L200.4,359.0L195.9,359.0L191.3,357.5L187.5,354.4L185.2,349.9L187.5,346.1L191.3,343.8L195.1,342.2L192.8,339.2L188.3,337.7L185.2,335.4L186.7,332.4L192.8,331.6L194.4,329.3L191.3,327.0Z"/>
<ellipse cx="176.8" cy="339.3" rx="1.8" ry=".7" transform="rotate(20 176.8 339.3)"/><ellipse cx="182.9" cy="353.4" rx="1.2" ry=".8"/>
<ellipse cx="206.5" cy="364.3" rx="1.8" ry=".9" transform="rotate(-35 206.5 364.3)"/>
<ellipse cx="188.6" cy="372.6" rx="1.3" ry=".45" transform="rotate(-20 188.6 372.6)"/>
<ellipse cx="185.2" cy="374.0" rx="1.2" ry=".45" transform="rotate(-20 185.2 374.0)"/>
<ellipse cx="181.8" cy="375.2" rx="1.1" ry=".45" transform="rotate(-20 181.8 375.2)"/>
<ellipse cx="178.4" cy="376.2" rx="1.0" ry=".45" transform="rotate(-20 178.4 376.2)"/>
<ellipse cx="175.2" cy="377.0" rx="0.9" ry=".45" transform="rotate(-20 175.2 377.0)"/>
</g>
<g stroke="#fff" stroke-width=".5" fill="none"><path style="stroke:#fff;stroke-opacity:.9;stroke-width:.5" d="M238.5,355 L240.5,359.5 M242,357 L244.5,362.5 M246,359.5 L248.3,365.5 M250,361.5 L251.5,366.5 M241,357.2 L252,364.6"/></g>
<g fill="#1191dc" stroke="#1584b4" stroke-width=".7" style="stroke-opacity:1">
<path style="stroke:#1584b4;stroke-opacity:1;stroke-width:.7" d="M303.5,360.9L305.4,361.9L308.8,363.2L312.1,366.1L314.1,368.1L311.6,369.6L308.8,371.9L305.7,374.1L304.4,372.8L303.5,369.5L302.0,366.3L303.0,364.2Z"/>
<ellipse cx="266.3" cy="341.1" rx="2.2" ry="1.6" transform="rotate(0 266.3 341.1)"/>
<ellipse cx="260.4" cy="342.2" rx="0.5" ry="0.8" transform="rotate(20 260.4 342.2)"/>
<ellipse cx="282" cy="347.1" rx="2.4" ry="1.5" transform="rotate(25 282 347.1)"/>
<ellipse cx="291.8" cy="350.6" rx="2.3" ry="0.5" transform="rotate(8 291.8 350.6)"/>
<ellipse cx="292.7" cy="353.9" rx="0.7" ry="0.6" transform="rotate(0 292.7 353.9)"/>
<ellipse cx="298.2" cy="354.3" rx="3.0" ry="1.5" transform="rotate(25 298.2 354.3)"/>
<ellipse cx="295.3" cy="356.4" rx="0.6" ry="0.4" transform="rotate(0 295.3 356.4)"/>
</g>
<g class="ld"><line x1="572.7" y1="136.7" x2="581.3" y2="163.3"/><line x1="564.2" y1="146" x2="560.5" y2="152.5"/><line x1="594" y1="170" x2="586.7" y2="172.7"/><line x1="600.7" y1="184.7" x2="586.7" y2="182.7"/><line x1="593" y1="193" x2="580.7" y2="187.3"/><line x1="580" y1="206" x2="566.7" y2="204.7"/><line x1="572" y1="216" x2="562.7" y2="215.7"/><line x1="566.7" y1="224.6" x2="548.7" y2="220.3"/><line x1="563.7" y1="235" x2="550.7" y2="223.7"/></g>
<g>
<text class="a" x="210.5" y="115.5">WA</text><text class="v" x="211" y="124.2">39.8</text>
<text class="a" x="200.5" y="150.5">OR</text><text class="v" x="201" y="160">32.6</text>
<text class="a" x="186.7" y="223">CA</text><text class="v" x="191" y="232.5">35.3</text>
<text class="a" x="219.5" y="207">NV</text><text class="v" x="220.5" y="216">46.3</text>
<text class="a" x="245" y="156">ID</text><text class="v" x="247" y="166">52.4</text>
<text class="a" x="289" y="135.5">MT</text><text class="v" x="289" y="144">61.8</text>
<text class="a" x="298" y="180.5">WY</text><text class="v" x="298.5" y="189.5">44.5</text>
<text class="a" x="259" y="215">UT</text><text class="v" x="260" y="223.5">48.9</text>
<text class="a" x="309" y="225">CO</text><text class="v" x="310" y="233.5">34.2</text>
<text class="a" x="250" y="268.5">AZ</text><text class="v" x="250.5" y="277.5">51.1</text>
<text class="a" x="299.5" y="273">NM</text><text class="v" x="300.5" y="283">47.2</text>
<text class="a" x="357" y="136.8">ND</text><text class="v" x="356.5" y="145.8">36.3</text>
<text class="a" x="357" y="170.5">SD</text><text class="v" x="357" y="179">50.3</text>
<text class="a" x="358" y="202">NE</text><text class="v" x="358" y="209.5">46.7</text>
<text class="a" x="369.3" y="234">KS</text><text class="v" x="369" y="242.7">48.8</text>
<text class="a" x="375" y="267.5">OK</text><text class="v" x="376" y="275">44.8</text>
<text class="a" x="357" y="309">TX</text><text class="v" x="358.5" y="318.5">40.8</text>
<text class="a" x="401.5" y="150">MN</text><text class="v" x="402.5" y="159">36.4</text>
<text class="a" x="408" y="195.5">IA</text><text class="v" x="408" y="204">42.2</text>
<text class="a" x="417" y="235">MO</text><text class="v" x="418" y="244.5">49.4</text>
<text class="a" x="420.5" y="273">AR</text><text class="v" x="420.5" y="282">52.2</text>
<text class="a" x="420.5" y="315.8">LA</text><text class="v" x="423" y="323.3">23.3</text>
<text class="a" x="433.5" y="166.5">WI</text><text class="v" x="435" y="176">57.7</text>
<text class="a" x="442.5" y="215.5">IL</text><text class="v" x="445" y="224.5">51.6</text>
<text class="a" x="467.5" y="215.5">IN</text><text class="v" x="469" y="224">51.7</text>
<text class="a" x="475.5" y="177">MI</text><text class="v" x="477" y="184.5">51.4</text>
<text class="a" x="495" y="209.5">OH</text><text class="v" x="497" y="216.5">54.0</text>
<text class="a" x="487.5" y="239.5">KY</text><text class="v" x="480.5" y="248">50.5</text>
<text class="a" x="445" y="295">MS</text><text class="v" x="446" y="304">45.2</text>
<text class="a" x="470.5" y="292.5">AL</text><text class="v" x="471.5" y="301">47.9</text>
<text class="a" x="499.5" y="290.5">GA</text><text class="v" x="502" y="299">55.5</text>
<text class="a" x="521.5" y="331.5">FL</text><text class="v" x="521.5" y="341.5">55.9</text>
<text class="a" x="511.8" y="275.5">SC</text><text class="v" x="522.7" y="281.4">63.3</text>
<text class="a" x="540" y="230.5">VA</text><text class="v" x="533.3" y="240.5">49.5</text>
<text class="a" x="533.5" y="195.5">PA</text><text class="v" x="535" y="203.3">47.9</text>
<text class="a" x="553" y="168">NY</text><text class="v" x="549.8" y="177.5">58.5</text>
<text class="a" x="589" y="129.5">ME</text><text class="v" x="589" y="140">72.8</text>
<text class="a" x="206" y="334">AK</text><text class="v" x="208.4" y="343">37.3</text>
<text class="a" x="282" y="356.7">HI</text><text class="v" x="282.4" y="364.6">57.5%</text>
<text class="a" x="513" y="241">WV</text><text class="v" x="516.7" y="230.8">47.1</text>
<text class="a s" x="449.5" y="268.5">TN</text><text class="v s" x="467" y="268">58.5</text>
<text class="a s" x="512" y="262.5">NC</text><text class="v s" x="526.5" y="262.5">61.7</text>
<text class="e" x="542.4" y="134">NH <tspan class="b">64.3%</tspan></text>
<text class="e" x="538" y="145.2">VT <tspan class="b">61.8%</tspan></text>
<text class="e" x="595" y="171">MA <tspan class="b">48.4%</tspan></text>
<text class="e" x="601.6" y="185.2">RI <tspan class="b">63.5%</tspan></text>
<text class="e" x="594.1" y="195.7">CT <tspan class="b">68.3%</tspan></text>
<text class="e" x="581" y="206.8">NJ <tspan class="b">63.9%</tspan></text>
<text class="e" x="573" y="216.9">DE <tspan class="b">51.3%</tspan></text>
<text class="e" x="567.3" y="227.4">MD <tspan class="b">36.4%</tspan></text>
<text class="e" x="564.2" y="237.8">DC <tspan class="b">7.2%</tspan></text>
</g>
</svg>
<div class="nat"><div class="l">National Average:</div><div class="p">48.5%</div></div>
<div class="src">Source: FHFA</div>
</body></html>
